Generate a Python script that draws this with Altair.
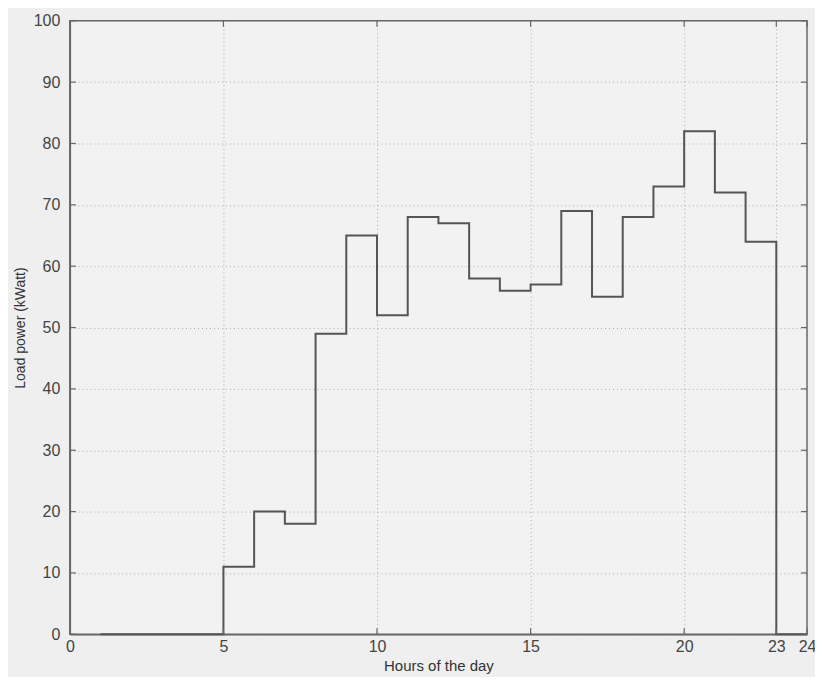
import altair as alt
import pandas as pd

hours = list(range(1, 25))
load_kw = [0, 0, 0, 0, 11, 20, 18, 49, 65, 52, 68, 67, 58, 56, 57, 69, 55, 68, 73, 82, 72, 64, 0, 0]
x_ticks = [0, 5, 10, 15, 20, 23, 24]
y_ticks = [0, 10, 20, 30, 40, 50, 60, 70, 80, 90, 100]

df = pd.DataFrame({"hour": hours, "load": load_kw})

W, H = 739, 615
xs = alt.Scale(domain=[0, 24], nice=False, zero=False)
ys = alt.Scale(domain=[0, 100], nice=False)

line = alt.Chart(df).mark_line(interpolate="step-after", color="#555555", strokeWidth=2).encode(
    x=alt.X("hour:Q", scale=xs,
            axis=alt.Axis(title="Hours of the day", values=x_ticks, grid=True, ticks=False,
                          gridDash=[1, 3], gridColor="#999999", gridOpacity=0.8,
                          labelFontSize=16, labelColor="#444444", labelFont="Liberation Sans",
                          titleFontSize=15, titleFont="Liberation Sans", titleFontWeight="normal",
                          titleColor="#333333", labelPadding=4, titlePadding=4,
                          domainColor="#666666", domainWidth=1.5, labelFlush=False)),
    y=alt.Y("load:Q", scale=ys,
            axis=alt.Axis(title="Load power (kWatt)", values=y_ticks, grid=True, ticks=False,
                          gridDash=[1, 3], gridColor="#999999", gridOpacity=0.8,
                          labelFontSize=16, labelColor="#444444", labelFont="Liberation Sans",
                          titleFontSize=14, titleFont="Liberation Sans", titleFontWeight="normal",
                          titleColor="#333333", labelPadding=10, titlePadding=6,
                          domainColor="#666666", domainWidth=1.5, labelFlush=False)),
)

ytick_df = pd.DataFrame({"v": y_ticks})
xtick_df = pd.DataFrame({"v": x_ticks})

left_ticks = alt.Chart(ytick_df).mark_rule(color="#666666", strokeWidth=1.2).encode(
    y=alt.Y("v:Q", scale=ys), x=alt.value(0), x2=alt.value(6))
right_ticks = alt.Chart(ytick_df).mark_rule(color="#666666", strokeWidth=1.2).encode(
    y=alt.Y("v:Q", scale=ys), x=alt.value(W - 6), x2=alt.value(W))
bottom_ticks = alt.Chart(xtick_df).mark_rule(color="#666666", strokeWidth=1.2).encode(
    x=alt.X("v:Q", scale=xs), y=alt.value(H), y2=alt.value(H - 6))
top_ticks = alt.Chart(xtick_df).mark_rule(color="#666666", strokeWidth=1.2).encode(
    x=alt.X("v:Q", scale=xs), y=alt.value(0), y2=alt.value(6))

chart = alt.layer(line, left_ticks, right_ticks, bottom_ticks, top_ticks).properties(
    width=W, height=H,
    background="#efefef",
    padding={"left": 62, "top": 12, "right": 8, "bottom": 42},
    autosize=alt.AutoSizeParams(type="none"),
).configure_view(stroke="#666666", strokeWidth=1.5, fill="#f2f2f2")

chart.save("out.html", embed_options={"renderer": "svg", "actions": False})
